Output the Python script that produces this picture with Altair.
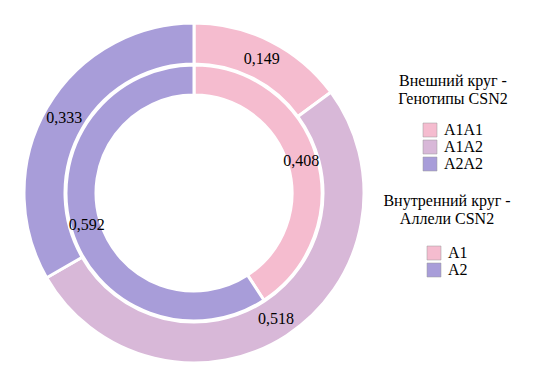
import altair as alt
import pandas as pd

outer_cats = ["A1A1", "A1A2", "A2A2"]
outer_vals = [0.149, 0.518, 0.333]
outer_labels = ["0,149", "0,518", "0,333"]
inner_cats = ["A1", "A2"]
inner_vals = [0.408, 0.592]
inner_labels = ["0,408", "0,592"]
outer_colors = ["#F5BCCF", "#D8B8D8", "#A89DD9"]
inner_colors = ["#F5BCCF", "#A89DD9"]

outer_df = pd.DataFrame({"cat": outer_cats, "val": outer_vals, "lab": outer_labels,
                         "ord": list(range(len(outer_cats)))})
inner_df = pd.DataFrame({"cat": inner_cats, "val": inner_vals, "lab": inner_labels,
                         "ord": list(range(len(inner_cats)))})

FONT = "Liberation Serif"
theta_scale = alt.Scale(domain=[0, 1])

outer_arc = alt.Chart(outer_df).mark_arc(
    outerRadius=170, innerRadius=129, stroke="white", strokeWidth=3
).encode(
    theta=alt.Theta("val:Q", stack=True, scale=theta_scale),
    color=alt.Color("cat:N", scale=alt.Scale(domain=outer_cats, range=outer_colors),
                    legend=alt.Legend(title=["Внешний круг -", "Генотипы CSN2"],
                                      orient="none", legendX=390, legendY=65,
                                      titlePadding=15)),
    order=alt.Order("ord:Q"),
)

inner_arc = alt.Chart(inner_df).mark_arc(
    outerRadius=128, innerRadius=98, stroke="white", strokeWidth=3
).encode(
    theta=alt.Theta("val:Q", stack=True, scale=theta_scale),
    color=alt.Color("cat:N", scale=alt.Scale(domain=inner_cats, range=inner_colors),
                    legend=alt.Legend(title=["Внутренний круг -", "Аллели CSN2"],
                                      orient="none", legendX=375, legendY=185,
                                      titlePadding=18)),
    order=alt.Order("ord:Q"),
)

outer_text = alt.Chart(outer_df).mark_text(
    radius=150, font=FONT, fontSize=16, color="black"
).encode(
    theta=alt.Theta("val:Q", stack=True, scale=theta_scale),
    text="lab:N",
    order=alt.Order("ord:Q"),
)

inner_text = alt.Chart(inner_df).mark_text(
    radius=112, font=FONT, fontSize=16, color="black"
).encode(
    theta=alt.Theta("val:Q", stack=True, scale=theta_scale),
    text="lab:N",
    order=alt.Order("ord:Q"),
)

chart = alt.layer(outer_arc, inner_arc, outer_text, inner_text).resolve_scale(
    color="independent"
).properties(
    width=372, height=370, padding=0,
    autosize=alt.AutoSizeParams(type="pad"),
).configure_view(stroke=None).configure_legend(
    titleFont=FONT, titleFontSize=16, titleFontWeight="normal", titleColor="black",
    titleLineHeight=18, titleAnchor="middle", titleAlign="center",
    labelFont=FONT, labelFontSize=16, labelColor="black",
    symbolType="square", symbolSize=196, symbolStrokeColor="#999999",
    symbolStrokeWidth=0.5, rowPadding=1, labelOffset=6, padding=0,
)

chart.save("out.html", embed_options={"renderer": "svg", "actions": False})
